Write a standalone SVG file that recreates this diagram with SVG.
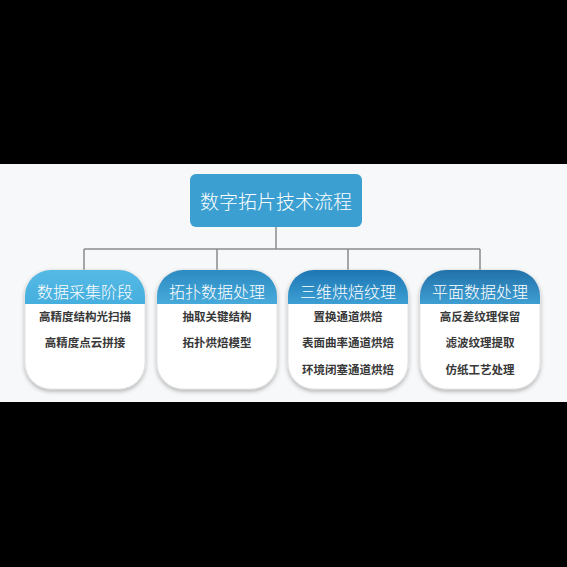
<svg xmlns="http://www.w3.org/2000/svg" width="567" height="567" viewBox="0 0 567 567">
<defs>
<style>
.hdr{font-family:"Noto Sans CJK SC","Noto Sans",sans-serif;font-size:16px;font-weight:300;fill:#ffffff;text-anchor:middle}
.item{font-family:"Noto Sans CJK SC","Noto Sans",sans-serif;font-size:11.5px;font-weight:700;fill:#383838;text-anchor:middle}
.title{font-family:"Noto Sans CJK SC","Noto Sans",sans-serif;font-size:19px;font-weight:300;fill:#ffffff;text-anchor:middle}
.conn{stroke:#8a8a8a;stroke-width:1.5;fill:none}
.body{fill:#ffffff;stroke:#dcdcdc;stroke-width:0.8}
</style>
<filter id="sh" x="-20%" y="-20%" width="140%" height="150%">
<feDropShadow dx="0" dy="2" stdDeviation="2" flood-color="#000" flood-opacity="0.3"/>
</filter>
<linearGradient id="g1" x1="0" y1="0" x2="0" y2="1"><stop offset="0" stop-color="#55b9e5"/><stop offset="1" stop-color="#46afde"/></linearGradient>
<linearGradient id="g2" x1="0" y1="0" x2="0" y2="1"><stop offset="0" stop-color="#2c8bc2"/><stop offset="1" stop-color="#48aadb"/></linearGradient>
<linearGradient id="g3" x1="0" y1="0" x2="0" y2="1"><stop offset="0" stop-color="#1d76b3"/><stop offset="1" stop-color="#3d9fd4"/></linearGradient>
<linearGradient id="g4" x1="0" y1="0" x2="0" y2="1"><stop offset="0" stop-color="#2171a9"/><stop offset="1" stop-color="#3f9fd2"/></linearGradient>
<path id="bodyShape" d="M26,0 H94 A26,26 0 0 1 120,26 V93 A26,26 0 0 1 94,119 H26 A26,26 0 0 1 0,93 V26 A26,26 0 0 1 26,0 Z"/>
</defs>
<rect x="0" y="0" width="567" height="567" fill="#000000"/>
<rect x="0" y="164" width="567" height="238" fill="#f7f8f9"/>

<g id="connectors">
<path class="conn" d="M276,227 V249 M84,249 H480 M84,249 V270 M217,249 V270 M348,249 V270 M480,249 V270"/>
</g>

<g id="title">
<rect x="190" y="174" width="172" height="53" rx="6" fill="#3b9fd1"/>
<text class="title" x="276" y="209">数字拓片技术流程</text>
</g>

<g id="node1" transform="translate(25,270)">
<use href="#bodyShape" class="body" filter="url(#sh)"/>
<path d="M26,0 H94 A26,26 0 0 1 120,26 V34 H0 V26 A26,26 0 0 1 26,0 Z" fill="url(#g1)"/>
<text class="hdr" x="60" y="28">数据采集阶段</text>
<text class="item" x="60" y="51">高精度结构光扫描</text>
<text class="item" x="60" y="77">高精度点云拼接</text>
</g>

<g id="node2" transform="translate(157,270)">
<use href="#bodyShape" class="body" filter="url(#sh)"/>
<path d="M26,0 H94 A26,26 0 0 1 120,26 V34 H0 V26 A26,26 0 0 1 26,0 Z" fill="url(#g2)"/>
<text class="hdr" x="60" y="28">拓扑数据处理</text>
<text class="item" x="60" y="51">抽取关键结构</text>
<text class="item" x="60" y="77">拓扑烘焙模型</text>
</g>

<g id="node3" transform="translate(288,270)">
<use href="#bodyShape" class="body" filter="url(#sh)"/>
<path d="M26,0 H94 A26,26 0 0 1 120,26 V34 H0 V26 A26,26 0 0 1 26,0 Z" fill="url(#g3)"/>
<text class="hdr" x="60" y="28">三维烘焙纹理</text>
<text class="item" x="60" y="51">置换通道烘焙</text>
<text class="item" x="60" y="77">表面曲率通道烘焙</text>
<text class="item" x="60" y="104">环境闭塞通道烘焙</text>
</g>

<g id="node4" transform="translate(420,270)">
<use href="#bodyShape" class="body" filter="url(#sh)"/>
<path d="M26,0 H94 A26,26 0 0 1 120,26 V34 H0 V26 A26,26 0 0 1 26,0 Z" fill="url(#g4)"/>
<text class="hdr" x="60" y="28">平面数据处理</text>
<text class="item" x="60" y="51">高反差纹理保留</text>
<text class="item" x="60" y="77">滤波纹理提取</text>
<text class="item" x="60" y="104">仿纸工艺处理</text>
</g>
</svg>
